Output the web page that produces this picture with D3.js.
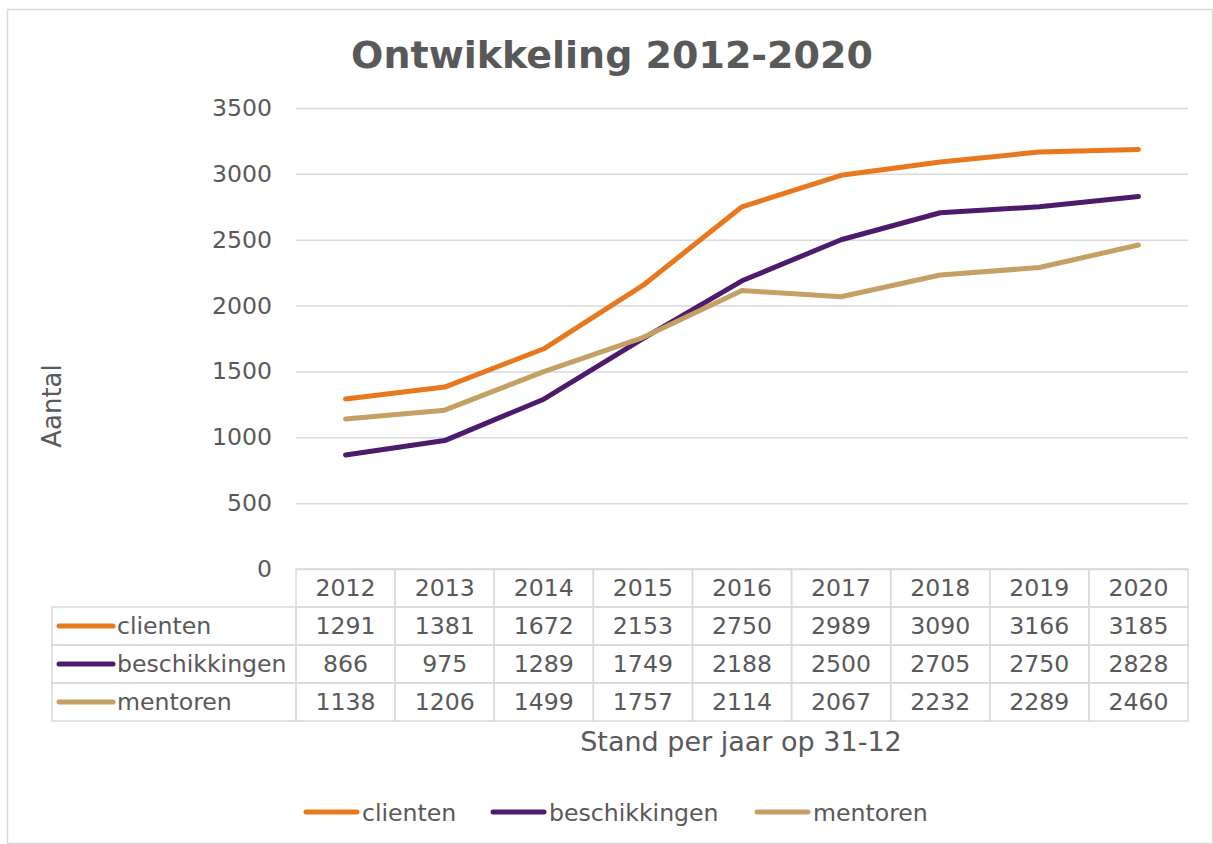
<!DOCTYPE html>
<html>
<head>
<meta charset="utf-8">
<script src="https://cdn.jsdelivr.net/npm/d3@7"></script>
<style>
    body { margin: 0; background: #fff; }
    svg text { font-family: "DejaVu Sans", Verdana, sans-serif; fill: #595959; }
</style>
</head>
<body>
<svg width="1213" height="844"></svg>
<script>
let years = ['2012', '2013', '2014', '2015', '2016', '2017', '2018', '2019', '2020']
let clienten = [1291, 1381, 1672, 2153, 2750, 2989, 3090, 3166, 3185]
let beschikkingen = [866, 975, 1289, 1749, 2188, 2500, 2705, 2750, 2828]
let mentoren = [1138, 1206, 1499, 1757, 2114, 2067, 2232, 2289, 2460]
let yTicks = [0, 500, 1000, 1500, 2000, 2500, 3000, 3500]

let series = [
    { name: 'clienten', values: clienten, color: '#E8781E' },
    { name: 'beschikkingen', values: beschikkingen, color: '#4E1A6B' },
    { name: 'mentoren', values: mentoren, color: '#C4A064' }
]

let svg = d3.select('svg')
let grid = '#d9d9d9'
let fs = '23.6px'

// chart border
svg.append('rect')
    .attr('x', 7.5).attr('y', 9.5)
    .attr('width', 1205).attr('height', 834)
    .attr('fill', 'none').attr('stroke', grid).attr('stroke-width', 1.5)

let plot = { left: 296, right: 1188, top: 108, bottom: 569 }

let scale = {
    x: d3.scaleBand().domain(years).range([plot.left, plot.right]),
    y: d3.scaleLinear().domain([0, 3500]).range([plot.bottom, plot.top])
}

// title
svg.append('text')
    .attr('x', 612).attr('y', 68)
    .attr('text-anchor', 'middle')
    .style('font-size', '38px').style('font-weight', 'bold')
    .text('Ontwikkeling 2012-2020')

// gridlines + y labels
let axisY = d3.axisLeft(scale.y).tickValues(yTicks)
    .tickSize(-(plot.right - plot.left)).tickPadding(24)
    .tickFormat(d3.format('d'))
let gy = svg.append('g')
    .attr('transform', `translate(${plot.left},0)`)
    .call(axisY)
gy.select('.domain').remove()
gy.selectAll('.tick line').attr('stroke', grid).attr('stroke-width', 1.5)
gy.selectAll('.tick text')
    .style('font-size', fs)
    .attr('fill', '#595959')

// y title
svg.append('text')
    .attr('transform', 'translate(61,406) rotate(-90)')
    .attr('text-anchor', 'middle')
    .style('font-size', '26px')
    .text('Aantal')

// data table
let rowH = 38
let tableTop = plot.bottom
let tableLeft = 52
let tbl = svg.append('g')

// header row cells
years.forEach(yr => {
    tbl.append('rect')
        .attr('x', scale.x(yr)).attr('y', tableTop)
        .attr('width', scale.x.bandwidth()).attr('height', rowH)
        .attr('fill', 'none').attr('stroke', grid).attr('stroke-width', 1.5)
    tbl.append('text')
        .attr('x', scale.x(yr) + scale.x.bandwidth() / 2)
        .attr('y', tableTop + rowH / 2)
        .attr('dy', '0.36em')
        .attr('text-anchor', 'middle')
        .style('font-size', fs)
        .text(yr)
})

series.forEach((s, i) => {
    let y0 = tableTop + rowH * (i + 1)
    tbl.append('rect')
        .attr('x', tableLeft).attr('y', y0)
        .attr('width', plot.left - tableLeft).attr('height', rowH)
        .attr('fill', 'none').attr('stroke', grid).attr('stroke-width', 1.5)
    tbl.append('line')
        .attr('x1', tableLeft + 7).attr('x2', tableLeft + 61)
        .attr('y1', y0 + rowH / 2).attr('y2', y0 + rowH / 2)
        .attr('stroke', s.color).attr('stroke-width', 5)
        .attr('stroke-linecap', 'round')
    tbl.append('text')
        .attr('x', tableLeft + 65).attr('y', y0 + rowH / 2)
        .attr('dy', '0.36em')
        .style('font-size', fs)
        .text(s.name)
    years.forEach((yr, j) => {
        tbl.append('rect')
            .attr('x', scale.x(yr)).attr('y', y0)
            .attr('width', scale.x.bandwidth()).attr('height', rowH)
            .attr('fill', 'none').attr('stroke', grid).attr('stroke-width', 1.5)
        tbl.append('text')
            .attr('x', scale.x(yr) + scale.x.bandwidth() / 2)
            .attr('y', y0 + rowH / 2)
            .attr('dy', '0.36em')
            .attr('text-anchor', 'middle')
            .style('font-size', fs)
            .text(s.values[j])
    })
})

// x title
svg.append('text')
    .attr('x', 741).attr('y', 751)
    .attr('text-anchor', 'middle')
    .style('font-size', '27px')
    .text('Stand per jaar op 31-12')

// lines
let line = d3.line()
    .x((d, i) => scale.x(years[i]) + scale.x.bandwidth() / 2)
    .y(d => scale.y(d))

series.forEach(s => {
    svg.append('path')
        .datum(s.values)
        .attr('d', line)
        .attr('fill', 'none')
        .attr('stroke', s.color)
        .attr('stroke-width', 5)
        .attr('stroke-linejoin', 'round')
        .attr('stroke-linecap', 'round')
})

// legend
let legendX = [306, 493, 757]
series.forEach((s, i) => {
    let g = svg.append('g').attr('transform', `translate(${legendX[i]},812)`)
    g.append('line')
        .attr('x1', 0).attr('x2', 51)
        .attr('stroke', s.color).attr('stroke-width', 5)
        .attr('stroke-linecap', 'round')
    g.append('text')
        .attr('x', 56).attr('dy', '0.36em')
        .style('font-size', fs)
        .text(s.name)
})
</script>
</body>
</html>
